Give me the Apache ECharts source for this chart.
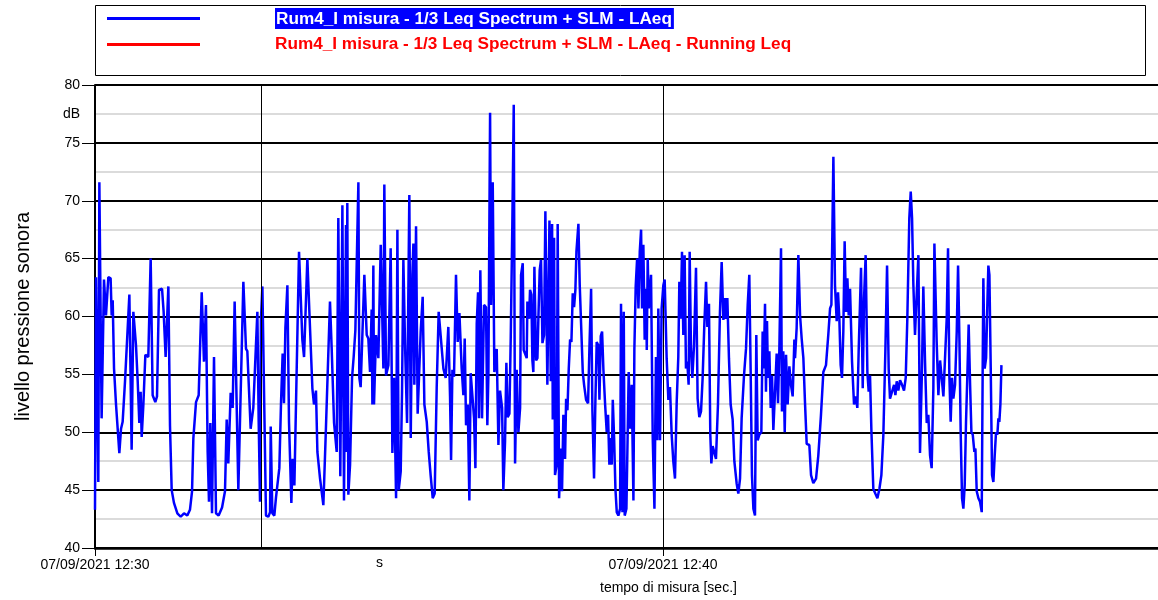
<!DOCTYPE html>
<html>
<head>
<meta charset="utf-8">
<script src="https://cdn.jsdelivr.net/npm/echarts@6/dist/echarts.min.js"></script>
<style>
	html, body {margin: 0; padding: 0; background: #fff;}
	#chart {width: 1158px; height: 600px;}
</style>
</head>
<body>
<div id="chart"></div>
<script>
// names shown in the legend
const seriesNames = [
	'Rum4_I misura - 1/3 Leq Spectrum + SLM - LAeq',
	'Rum4_I misura - 1/3 Leq Spectrum + SLM - LAeq - Running Leq'
]
// labels under the time axis, one every 600 s
const tickLabels = ['07/09/2021 12:30', '07/09/2021 12:40']
const axisEnd = 1127 // seconds shown on the time axis (a bit past the picture edge)
const cursorAt = 175.3 // vertical cursor line (s)

// seconds from 12:30:00
const secs = [
	0.0, 1.1, 3.5, 4.6, 7.0, 9.5, 11.6, 14.1, 16.5, 17.6, 18.7, 20.1, 22.2, 25.7, 27.5, 29.2,
	31.7, 33.4, 36.3, 38.7, 40.5, 43.3, 45.1, 46.8, 48.2, 49.3, 51.1, 53.2, 56.3, 58.8, 60.9, 63.7,
	65.5, 67.6, 70.8, 72.5, 74.6, 77.5, 79.2, 81.0, 83.4, 87.0, 90.5, 94.0, 97.5, 100.3, 102.5, 103.9,
	106.7, 109.5, 112.7, 115.1, 117.2, 119.0, 120.4, 121.8, 123.6, 125.7, 127.8, 130.6, 134.2, 137.3, 139.1, 140.8,
	143.3, 145.4, 147.5, 151.4, 156.7, 159.5, 160.9, 164.4, 167.2, 171.5, 172.9, 174.3, 175.3, 176.8, 180.6, 183.1,
	184.9, 185.6, 187.3, 189.4, 191.2, 193.0, 194.7, 196.5, 198.2, 199.6, 201.1, 203.2, 204.9, 207.4, 208.8, 210.6,
	215.5, 219.0, 220.8, 224.3, 226.1, 229.6, 231.3, 233.4, 234.9, 237.7, 241.2, 243.7, 248.2, 250.0, 252.5, 255.3,
	257.0, 259.1, 261.3, 263.0, 265.1, 265.8, 266.5, 267.6, 269.4, 271.5, 273.2, 275.0, 278.2, 279.2, 280.6, 284.5,
	287.0, 288.7, 290.5, 292.2, 293.0, 294.0, 294.7, 296.8, 299.3, 301.8, 303.5, 304.6, 305.6, 307.4, 309.9, 312.3,
	314.1, 315.9, 318.0, 319.4, 320.8, 322.9, 324.3, 325.7, 327.5, 329.6, 332.0, 333.5, 335.2, 336.3, 337.3, 339.1,
	340.8, 342.6, 344.0, 346.1, 347.9, 350.4, 352.5, 354.6, 356.7, 358.8, 360.9, 363.0, 365.1, 368.0, 370.4, 373.2,
	375.0, 376.1, 377.5, 379.2, 381.3, 383.1, 384.9, 387.3, 389.1, 390.5, 391.9, 393.7, 395.4, 396.8, 398.6, 400.4,
	401.8, 403.2, 404.6, 405.6, 407.0, 408.8, 410.9, 413.0, 414.4, 415.5, 417.3, 418.3, 420.1, 421.8, 424.3, 426.1,
	427.8, 430.0, 431.3, 433.1, 434.5, 435.9, 437.7, 439.1, 440.8, 442.3, 443.7, 445.4, 447.2, 449.0, 450.0, 451.8,
	452.8, 454.6, 456.0, 456.7, 458.5, 459.5, 460.9, 462.0, 463.0, 464.1, 465.9, 467.3, 468.3, 469.7, 471.1, 472.6,
	474.3, 475.7, 477.8, 480.0, 481.4, 482.8, 483.5, 484.9, 485.9, 487.7, 488.7, 490.2, 491.9, 493.3, 494.7, 496.5,
	497.6, 499.0, 500.4, 501.8, 503.2, 504.6, 506.0, 507.4, 508.5, 509.5, 510.6, 512.0, 513.0, 515.2, 516.6, 518.7,
	520.8, 522.2, 524.0, 525.4, 527.1, 528.5, 529.9, 531.7, 532.8, 534.2, 535.6, 537.0, 538.8, 540.5, 541.9, 543.3,
	544.7, 545.8, 546.9, 548.3, 549.7, 551.1, 552.8, 554.6, 555.6, 557.1, 558.5, 559.5, 561.3, 562.3, 563.7, 565.2,
	566.9, 568.7, 569.7, 571.1, 572.6, 574.0, 575.4, 576.8, 577.8, 579.2, 580.6, 582.1, 582.8, 583.8, 584.9, 587.3,
	589.1, 590.9, 592.5, 593.9, 595.0, 596.8, 598.5, 600.3, 601.7, 603.8, 605.6, 607.3, 609.1, 610.8, 612.6, 614.4,
	616.1, 617.2, 618.6, 620.0, 621.4, 622.8, 624.2, 625.6, 627.0, 628.1, 629.5, 630.9, 632.7, 634.8, 636.5, 638.3,
	640.1, 641.8, 643.6, 645.4, 646.8, 648.5, 649.9, 651.0, 652.4, 654.2, 655.9, 658.0, 660.1, 661.9, 663.7, 665.4,
	666.5, 667.9, 669.6, 671.4, 673.5, 675.3, 677.7, 679.5, 681.3, 683.0, 685.5, 687.6, 689.4, 691.1, 692.5, 693.9,
	695.4, 697.1, 698.5, 699.9, 701.7, 703.8, 705.2, 706.3, 707.7, 708.7, 709.8, 710.8, 712.3, 713.7, 715.1, 716.5,
	718.2, 720.0, 721.4, 722.8, 724.6, 725.6, 727.0, 728.5, 729.9, 731.6, 733.4, 735.1, 736.9, 738.7, 739.4, 741.1,
	742.9, 744.7, 746.4, 748.2, 749.9, 751.7, 754.5, 756.3, 758.7, 761.6, 764.0, 766.8, 769.3, 772.1, 774.6, 776.4,
	777.8, 779.9, 781.6, 783.4, 784.8, 786.2, 787.6, 789.0, 790.4, 791.8, 793.3, 794.7, 796.1, 797.5, 799.6, 801.7,
	803.5, 805.2, 806.6, 809.1, 810.9, 812.3, 814.0, 815.8, 817.2, 818.6, 820.0, 822.1, 824.2, 826.4, 828.5, 830.6,
	832.7, 834.8, 836.6, 838.3, 839.7, 841.8, 844.0, 845.4, 846.8, 848.5, 850.3, 852.4, 854.5, 856.3, 858.0, 860.1,
	861.6, 863.0, 864.4, 866.1, 867.9, 869.7, 871.4, 873.5, 874.9, 876.7, 878.5, 880.2, 882.0, 883.7, 885.5, 886.6,
	889.0, 890.8, 892.6, 894.3, 896.1, 897.8, 899.6, 901.0, 902.4, 903.8, 905.2, 906.6, 908.4, 910.2, 911.6, 913.0,
	914.4, 915.8, 917.2, 918.6, 920.0, 921.4, 922.8, 924.3, 925.7, 927.1, 928.8, 929.9, 931.3, 933.1, 934.8, 936.6,
	937.6, 938.3, 939.7, 941.2, 942.6, 943.6, 944.7, 946.1, 947.5, 948.9, 950.3, 951.7, 953.1, 954.2, 955.2, 956.3,
	957.4
]

// LAeq in dB, one per entry of secs
const laeq = [
	43.3, 63.4, 45.7, 71.6, 51.2, 63.2, 60.1, 63.4, 63.3, 60.1, 61.4, 55.5, 52.4, 48.2, 50.3, 50.9,
	54.4, 54.5, 61.9, 48.5, 60.4, 57.5, 54.4, 50.8, 53.5, 49.6, 52.4, 56.7, 56.5, 65.0, 53.2, 52.6,
	53.1, 62.3, 62.4, 60.4, 56.5, 62.6, 50.6, 45.0, 43.9, 43.0, 42.7, 43.0, 42.8, 43.3, 44.9, 49.5,
	52.6, 53.2, 62.1, 56.1, 61.0, 48.3, 44.0, 50.8, 43.0, 56.5, 43.0, 42.8, 43.5, 44.9, 51.1, 47.3,
	53.4, 52.1, 61.3, 45.0, 63.0, 57.2, 57.0, 50.3, 52.1, 60.4, 50.9, 44.0, 59.8, 62.6, 42.8, 42.7,
	43.1, 50.5, 43.0, 42.8, 44.4, 44.3, 46.9, 52.6, 56.8, 52.5, 59.0, 62.7, 50.9, 43.9, 47.7, 45.4,
	65.6, 58.0, 56.5, 65.0, 61.1, 53.8, 52.4, 53.6, 48.3, 46.0, 43.7, 49.8, 61.3, 57.2, 50.8, 48.3,
	68.5, 46.2, 69.6, 44.1, 67.9, 48.3, 69.8, 44.6, 47.2, 54.7, 56.5, 58.8, 71.6, 54.7, 53.9, 63.6,
	58.4, 58.1, 55.2, 60.6, 52.4, 64.4, 52.4, 58.4, 56.4, 66.2, 66.3, 55.5, 71.4, 54.9, 55.8, 65.9,
	48.2, 54.7, 44.3, 67.5, 45.0, 46.6, 53.5, 64.9, 57.5, 50.8, 70.5, 49.5, 63.6, 66.3, 54.1, 67.8,
	51.6, 51.5, 58.7, 61.7, 52.4, 50.9, 48.3, 46.2, 44.3, 44.7, 53.8, 60.4, 60.4, 55.5, 54.7, 59.1,
	53.1, 47.6, 55.4, 54.8, 63.6, 57.8, 60.3, 55.5, 53.2, 58.1, 50.6, 52.4, 44.1, 55.1, 55.2, 51.2,
	46.9, 59.4, 62.1, 51.2, 64.0, 51.2, 61.0, 60.8, 50.6, 54.9, 77.6, 61.0, 71.6, 55.2, 57.2, 48.9,
	53.6, 52.1, 45.0, 49.2, 56.0, 51.3, 51.6, 58.1, 68.0, 78.3, 47.3, 55.4, 50.0, 52.1, 63.6, 64.6,
	57.1, 57.0, 56.4, 61.3, 59.8, 62.3, 61.9, 56.2, 55.2, 64.3, 56.2, 56.4, 59.8, 64.0, 64.9, 57.7,
	58.4, 69.1, 54.1, 68.3, 54.4, 68.0, 51.1, 66.8, 46.3, 47.2, 68.0, 44.3, 48.6, 44.9, 51.5, 47.7,
	52.9, 51.9, 55.5, 58.0, 57.8, 62.0, 60.8, 62.3, 65.6, 65.5, 68.0, 62.7, 62.7, 55.2, 54.1, 52.8,
	52.5, 57.2, 62.4, 51.8, 46.0, 52.6, 57.8, 57.5, 52.8, 58.3, 58.7, 55.4, 52.4, 50.0, 51.5, 47.2,
	49.5, 47.2, 52.8, 49.5, 45.1, 43.1, 42.8, 43.4, 61.1, 43.1, 60.4, 42.8, 43.4, 48.3, 55.2, 50.3,
	54.1, 44.1, 57.2, 62.6, 65.0, 60.7, 65.6, 67.5, 60.7, 66.2, 58.0, 62.4, 57.1, 65.0, 60.7, 63.6,
	49.5, 43.4, 56.5, 49.3, 60.7, 49.3, 60.7, 62.7, 63.2, 56.4, 52.8, 53.9, 49.8, 47.5, 46.0, 52.6,
	56.5, 63.0, 59.8, 65.6, 58.4, 65.3, 55.5, 56.1, 54.1, 65.6, 57.2, 54.7, 57.5, 64.2, 52.9, 51.3,
	51.8, 54.7, 59.3, 63.0, 59.1, 61.1, 49.8, 47.3, 48.8, 48.8, 47.7, 52.4, 60.4, 64.7, 59.7, 61.6,
	59.8, 61.6, 56.4, 52.4, 51.1, 47.5, 45.6, 44.7, 46.0, 51.2, 54.9, 57.2, 61.0, 63.6, 55.5, 46.3,
	43.4, 42.8, 58.4, 49.3, 49.8, 50.0, 58.7, 55.5, 61.1, 53.5, 59.6, 54.7, 57.0, 52.1, 54.9, 50.2,
	50.3, 56.8, 52.5, 57.0, 65.9, 51.8, 57.0, 50.0, 56.7, 52.4, 55.7, 54.1, 53.1, 58.0, 56.4, 59.0,
	65.3, 60.1, 58.1, 56.4, 52.6, 49.0, 48.9, 46.3, 45.6, 46.0, 48.0, 51.5, 55.2, 55.8, 58.5, 60.7,
	61.0, 73.8, 62.7, 59.6, 62.1, 59.8, 55.8, 54.7, 58.7, 66.5, 60.4, 63.3, 60.1, 62.4, 56.1, 52.4,
	53.1, 52.1, 57.0, 64.2, 53.8, 61.6, 65.3, 55.2, 53.5, 54.9, 50.3, 45.1, 44.7, 44.3, 45.1, 46.3,
	49.8, 57.0, 64.4, 55.5, 52.9, 52.8, 54.1, 53.2, 54.4, 53.6, 54.5, 54.1, 53.6, 54.7, 59.8, 68.5,
	70.8, 68.5, 62.7, 58.4, 61.9, 65.3, 48.2, 55.5, 62.6, 56.1, 50.8, 51.5, 48.0, 46.9, 53.8, 66.3,
	57.8, 53.2, 56.2, 56.1, 53.1, 53.2, 59.8, 65.9, 54.9, 50.9, 54.7, 52.9, 54.1, 58.7, 64.4, 58.1,
	49.8, 44.3, 43.4, 45.4, 50.9, 54.9, 59.3, 54.1, 50.0, 49.8, 48.3, 48.6, 44.9, 44.3, 44.0, 43.1,
	55.5, 63.3, 55.5, 56.4, 61.3, 64.4, 63.6, 55.5, 46.3, 45.7, 48.0, 50.0, 49.8, 51.2, 50.9, 52.4,
	55.8
]

const chart = echarts.init(document.getElementById('chart'), null, {renderer: 'canvas'})

const font = "'Liberation Sans', Arial, sans-serif"

chart.setOption({
	animation: false,
	backgroundColor: '#fff',
	textStyle: {fontFamily: font, color: '#000'},
	// right edge pushed past the canvas so no closing line is drawn
	grid: {left: 95, right: -4, top: 85, bottom: 52, containLabel: false, outerBoundsMode: 'none'},
	legend: {
		left: 102,
		top: 3,
		orient: 'vertical',
		icon: 'rect',
		itemWidth: 93,
		itemHeight: 3,
		itemGap: 7,
		data: seriesNames,
		formatter: name => name === seriesNames[0]
			? '{gap|}{sel|' + name + '}'
			: '{gap|}{red|' + name + '}',
		textStyle: {
			rich: {
				gap: {width: 70},
				sel: {
					color: '#fff', backgroundColor: '#0000ff', fontWeight: 'bold',
					fontSize: 17.2, fontFamily: font, padding: [3, 2, 1, 1]
				},
				red: {color: '#ff0000', fontWeight: 'bold', fontSize: 17.2, fontFamily: font}
			}
		}
	},
	xAxis: {
		type: 'value',
		min: 0,
		max: axisEnd,
		interval: 600,
		axisLine: {lineStyle: {color: '#000', width: 2.5}},
		axisTick: {length: 8, lineStyle: {color: '#000', width: 1}},
		axisLabel: {
			color: '#000', fontSize: 14, margin: 10,
			formatter: v => tickLabels[v / 600] || ''
		},
		splitLine: {show: true, lineStyle: {color: '#000', width: 1}}
	},
	yAxis: {
		type: 'value',
		min: 40,
		max: 80,
		interval: 5,
		name: 'livello pressione sonora',
		nameLocation: 'middle',
		nameGap: 62,
		nameTextStyle: {fontSize: 20, color: '#000'},
		axisLine: {show: true, lineStyle: {color: '#000', width: 2}},
		axisTick: {show: true, length: 13, lineStyle: {color: '#000', width: 1}},
		axisLabel: {color: '#000', fontSize: 14, margin: 15},
		splitLine: {lineStyle: {color: '#000', width: 2}},
		minorTick: {show: false, splitNumber: 2},
		minorSplitLine: {show: true, lineStyle: {color: '#cfcfcf', width: 1.5}}
	},
	graphic: [
		{
			type: 'rect', z: -1,
			shape: {x: 95.5, y: 5.5, width: 1050, height: 70},
			style: {fill: null, stroke: '#000', lineWidth: 1}
		},
		{
			type: 'text', left: 63, top: 107,
			style: {text: 'dB', font: '14px ' + font, fill: '#000'}
		},
		{
			type: 'text', left: 376, top: 556,
			style: {text: 's', font: '14px ' + font, fill: '#000'}
		},
		{
			type: 'text', left: 600, top: 581,
			style: {text: 'tempo di misura [sec.]', font: '14px ' + font, fill: '#000'}
		}
	],
	series: [
		{
			name: seriesNames[0],
			type: 'line',
			data: secs.map((s, i) => [s, laeq[i]]),
			showSymbol: false,
			symbol: 'none',
			color: '#0000ff',
			lineStyle: {width: 2.5, color: '#0000ff'},
			markLine: {
				silent: true,
				symbol: 'none',
				label: {show: false},
				lineStyle: {color: '#000', width: 1, type: 'solid'},
				data: [{xAxis: cursorAt}]
			}
		},
		{
			name: seriesNames[1],
			type: 'line',
			data: [],
			color: '#ff0000',
			lineStyle: {width: 3, color: '#ff0000'}
		}
	]
})
</script>
</body>
</html>
